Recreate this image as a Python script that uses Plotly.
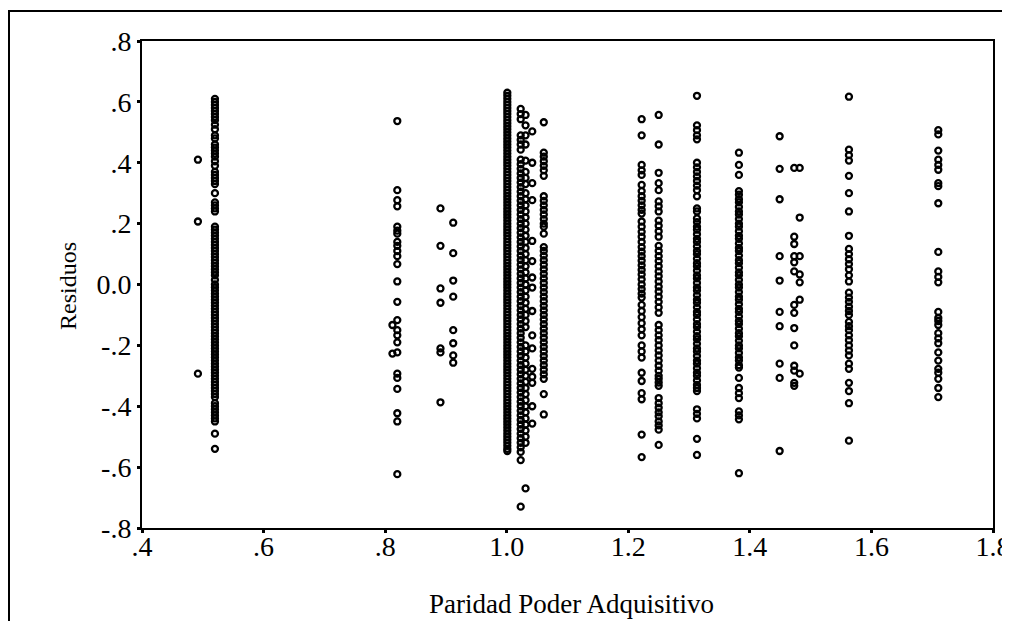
import plotly.graph_objects as go

# ---- data: residuals grouped by value of "Paridad Poder Adquisitivo" ----
ppa_values = [0.492, 0.52, 0.812, 0.82, 0.891, 0.912, 1.001, 1.023, 1.031, 1.042,
              1.061, 1.222, 1.25, 1.313, 1.382, 1.449, 1.473, 1.482, 1.563, 1.71]

res_0492 = [0.41, 0.207, -0.293]
res_052 = [0.61, 0.60, 0.59, 0.58, 0.57, 0.56, 0.55, 0.54, 0.525, 0.51, 0.49, 0.48,
           0.46, 0.45, 0.44, 0.43, 0.42, 0.405, 0.39, 0.37, 0.36, 0.35, 0.34, 0.33,
           0.30, 0.27, 0.26, 0.25, 0.24,
           0.19, 0.18, 0.17, 0.16, 0.15, 0.14, 0.13, 0.12, 0.11, 0.10, 0.09, 0.08,
           0.07, 0.06, 0.05, 0.04, 0.03, 0.015, 0.00, -0.01, -0.02, -0.03, -0.04,
           -0.05, -0.06, -0.07, -0.08, -0.09, -0.10, -0.11, -0.12, -0.13, -0.14,
           -0.15, -0.16, -0.17, -0.18, -0.19, -0.20, -0.21, -0.22, -0.23, -0.24,
           -0.25, -0.26, -0.27, -0.28, -0.29, -0.30, -0.31, -0.32, -0.33, -0.34,
           -0.35, -0.36, -0.37, -0.39, -0.40, -0.41, -0.42, -0.43, -0.44, -0.45,
           -0.49, -0.54]
res_0812 = [-0.133, -0.227]
res_082 = [0.537, 0.31, 0.277, 0.257, 0.19, 0.177, 0.167, 0.14, 0.127, 0.11, 0.093,
           0.067, 0.01, -0.057, -0.117, -0.15, -0.167, -0.19, -0.223, -0.293, -0.307,
           -0.343, -0.423, -0.45, -0.623]
res_0891 = [0.25, 0.127, -0.013, -0.06, -0.21, -0.223, -0.387]
res_0912 = [0.203, 0.103, 0.013, -0.04, -0.15, -0.193, -0.233, -0.257]
res_1001 = [0.63, 0.62, 0.61, 0.60, 0.59, 0.58, 0.57, 0.56, 0.55, 0.54, 0.53, 0.52,
            0.51, 0.50, 0.49, 0.48, 0.47, 0.46, 0.45, 0.44, 0.43, 0.42, 0.41, 0.40,
            0.39, 0.38, 0.37, 0.36, 0.35, 0.34, 0.33, 0.32, 0.31, 0.30, 0.29, 0.28,
            0.27, 0.26, 0.25, 0.24, 0.23, 0.22, 0.21, 0.20, 0.19, 0.18, 0.17, 0.16,
            0.15, 0.14, 0.13, 0.12, 0.11, 0.10, 0.09, 0.08, 0.07, 0.06, 0.05, 0.04,
            0.03, 0.02, 0.01, 0.00, -0.01, -0.02, -0.03, -0.04, -0.05, -0.06, -0.07,
            -0.08, -0.09, -0.10, -0.11, -0.12, -0.13, -0.14, -0.15, -0.16, -0.17,
            -0.18, -0.19, -0.20, -0.21, -0.22, -0.23, -0.24, -0.25, -0.26, -0.27,
            -0.28, -0.29, -0.30, -0.31, -0.32, -0.33, -0.34, -0.35, -0.36, -0.37,
            -0.38, -0.39, -0.40, -0.41, -0.42, -0.43, -0.44, -0.45, -0.46, -0.47,
            -0.48, -0.49, -0.50, -0.51, -0.52, -0.53, -0.54, -0.547]
res_1023 = [0.577, 0.56, 0.543, 0.49, 0.475, 0.46, 0.443,
            0.41, 0.395, 0.38, 0.365, 0.35, 0.335, 0.32, 0.305, 0.29, 0.275, 0.26,
            0.245, 0.23, 0.215, 0.20, 0.185, 0.17, 0.155, 0.14, 0.125, 0.11, 0.095,
            0.08, 0.065, 0.05, 0.035, 0.02, 0.005, -0.01, -0.025, -0.04, -0.055,
            -0.07, -0.085, -0.10, -0.115, -0.13, -0.145, -0.16, -0.175, -0.19,
            -0.205, -0.22, -0.235, -0.25, -0.265, -0.28, -0.295, -0.31, -0.325,
            -0.34, -0.355, -0.37, -0.385, -0.40, -0.415, -0.43, -0.445, -0.46,
            -0.475, -0.49, -0.505, -0.52, -0.535, -0.55, -0.577, -0.73]
res_1031 = [0.557, 0.523, 0.49, 0.46, 0.407, 0.37, 0.35, 0.33, 0.30, 0.28, 0.26,
            0.24, 0.22, 0.20, 0.18, 0.16, 0.14, 0.12, 0.10, 0.08, 0.06, 0.04, 0.02,
            0.00, -0.02, -0.04, -0.06, -0.08, -0.10, -0.12, -0.14, -0.20, -0.22,
            -0.24, -0.26, -0.28, -0.30, -0.32, -0.34, -0.36, -0.38, -0.40, -0.42,
            -0.44, -0.46, -0.48, -0.50, -0.52, -0.67]
res_1042 = [0.503, 0.40, 0.333, 0.277, 0.143, 0.077, 0.023, -0.01, -0.087, -0.167,
            -0.21, -0.277, -0.303, -0.323, -0.40, -0.457]
res_1061 = [0.533, 0.433, 0.42, 0.405, 0.39, 0.375, 0.357, 0.29, 0.275, 0.26, 0.245,
            0.23, 0.215, 0.20, 0.19, 0.167, 0.123, 0.11, 0.095, 0.08, 0.065, 0.05,
            0.035, 0.02, 0.005, -0.01, -0.025, -0.04, -0.055, -0.07, -0.085, -0.10,
            -0.115, -0.13, -0.145, -0.16, -0.175, -0.19, -0.205, -0.22, -0.235,
            -0.25, -0.265, -0.28, -0.295, -0.31, -0.36, -0.427]
res_1222 = [0.543, 0.49, 0.393, 0.375, 0.36, 0.327, 0.307, 0.29, 0.275, 0.26, 0.245,
            0.233, 0.207, 0.19, 0.173, 0.157, 0.14, 0.123, 0.108, 0.093, 0.078,
            0.063, 0.048, 0.033, 0.017, 0.0, -0.015, -0.03, -0.043, -0.067, -0.087,
            -0.107, -0.127, -0.147, -0.167, -0.2, -0.22, -0.24, -0.29, -0.317,
            -0.357, -0.377, -0.493, -0.567]
res_125 = [0.557, 0.46, 0.367, 0.333, 0.31, 0.273, 0.257, 0.24, 0.21, 0.193, 0.175,
           0.157, 0.127, 0.11, 0.093, 0.077, 0.06, 0.043, 0.027, 0.01, -0.007,
           -0.023, -0.04, -0.057, -0.075, -0.093, -0.133, -0.15, -0.167, -0.183,
           -0.2, -0.217, -0.233, -0.25, -0.267, -0.283, -0.3, -0.31, -0.322, -0.333,
           -0.373, -0.39, -0.405, -0.42, -0.433, -0.45, -0.463, -0.477, -0.527]
res_1313 = [0.62, 0.523, 0.507, 0.49, 0.477, 0.4, 0.385, 0.37, 0.355, 0.34, 0.325,
            0.31, 0.29, 0.25, 0.24, 0.217, 0.205, 0.19, 0.18, 0.165, 0.15, 0.14,
            0.125, 0.11, 0.10, 0.085, 0.07, 0.06, 0.045, 0.03, 0.02, 0.005, -0.01,
            -0.02, -0.035, -0.05, -0.06, -0.075, -0.09, -0.10, -0.115, -0.13, -0.14,
            -0.155, -0.17, -0.18, -0.195, -0.21, -0.22, -0.235, -0.25, -0.26,
            -0.275, -0.29, -0.30, -0.315, -0.33, -0.34, -0.35, -0.41, -0.425, -0.44,
            -0.507, -0.56]
res_1382 = [0.433, 0.393, 0.36, 0.307, 0.295, 0.28, 0.27, 0.255, 0.24, 0.23, 0.215,
            0.2, 0.19, 0.175, 0.16, 0.15, 0.135, 0.12, 0.11, 0.095, 0.08, 0.07,
            0.055, 0.04, 0.03, 0.015, 0.0, -0.01, -0.025, -0.04, -0.05, -0.065,
            -0.08, -0.09, -0.105, -0.12, -0.13, -0.145, -0.16, -0.17, -0.185, -0.2,
            -0.21, -0.225, -0.24, -0.25, -0.265, -0.273, -0.307, -0.34, -0.357,
            -0.373, -0.417, -0.43, -0.443, -0.62]
res_1449 = [0.487, 0.38, 0.28, 0.093, 0.013, -0.09, -0.137, -0.26, -0.307, -0.547]
res_1473 = [0.383, 0.157, 0.133, 0.093, 0.073, 0.043, -0.067, -0.093, -0.143, -0.2,
            -0.267, -0.283, -0.323, -0.333]
res_1482 = [0.383, 0.22, 0.093, 0.033, 0.007, -0.05, -0.293]
res_1563 = [0.617, 0.443, 0.425, 0.407, 0.357, 0.3, 0.24, 0.16, 0.117, 0.1, 0.083,
            0.067, 0.05, 0.03, 0.01, -0.027, -0.043, -0.057, -0.073, -0.087, -0.1,
            -0.123, -0.137, -0.15, -0.167, -0.183, -0.2, -0.217, -0.233, -0.26,
            -0.277, -0.323, -0.35, -0.39, -0.513]
res_171 = [0.507, 0.493, 0.44, 0.41, 0.393, 0.377, 0.333, 0.323, 0.267, 0.107,
           0.043, 0.025, 0.007, -0.09, -0.11, -0.12, -0.133, -0.16, -0.177, -0.193,
           -0.223, -0.25, -0.277, -0.29, -0.31, -0.34, -0.37]

residual_groups = [res_0492, res_052, res_0812, res_082, res_0891, res_0912,
                   res_1001, res_1023, res_1031, res_1042, res_1061, res_1222,
                   res_125, res_1313, res_1382, res_1449, res_1473, res_1482,
                   res_1563, res_171]

x_tickvals = [0.4, 0.6, 0.8, 1.0, 1.2, 1.4, 1.6, 1.8]
x_ticktext = [".4", ".6", ".8", "1.0", "1.2", "1.4", "1.6", "1.8"]
y_tickvals = [-0.8, -0.6, -0.4, -0.2, 0.0, 0.2, 0.4, 0.6, 0.8]
y_ticktext = ["-.8", "-.6", "-.4", "-.2", "0.0", ".2", ".4", ".6", ".8"]

x_title = "Paridad Poder Adquisitivo"
y_title = "Residuos"

# ---- build figure ----
xs, ys = [], []
for xv, grp in zip(ppa_values, residual_groups):
    xs.extend([xv] * len(grp))
    ys.extend(grp)

SERIF = "Liberation Serif, Times New Roman, serif"

fig = go.Figure(go.Scatter(
    x=xs, y=ys, mode="markers",
    marker=dict(symbol="circle-open", size=6, color="black",
                line=dict(width=2.3, color="black")),
    showlegend=False, hoverinfo="skip"))

# the page body adds an 8px offset, so the figure is laid out 8px up/left
OFF = 8
W, H = 1010 - OFF, 621 - OFF
L, R, T, B = 142 - OFF, 17, 41 - OFF, 101 - OFF
pw, ph = W - L - R, H - T - B


def px_x(p):
    return (p - OFF - L) / pw


def px_y(p):
    return (H - B - (p - OFF)) / ph


fig.update_layout(
    width=W, height=H, autosize=False,
    margin=dict(l=L, r=R, t=T, b=B, pad=0, autoexpand=False),
    paper_bgcolor="white", plot_bgcolor="white",
    font=dict(family=SERIF, color="black"),
    xaxis=dict(range=[0.4, 1.8], tickvals=x_tickvals, ticktext=x_ticktext,
               automargin=False,
               showgrid=False, zeroline=False, showline=True, mirror=True,
               linecolor="black", linewidth=2, ticks="outside", ticklen=3,
               tickwidth=3, tickcolor="black", ticklabeloverflow="allow",
               ticklabelstandoff=-11,
               tickfont=dict(family=SERIF, size=28, color="black")),
    yaxis=dict(range=[-0.8, 0.8], tickvals=y_tickvals, ticktext=y_ticktext,
               automargin=False,
               showgrid=False, zeroline=False, showline=True, mirror=True,
               linecolor="black", linewidth=2, ticks="outside", ticklen=3,
               tickwidth=3, tickcolor="black", ticklabeloverflow="allow",
               tickfont=dict(family=SERIF, size=28, color="black")),
    annotations=[
        dict(text=x_title, xref="paper", yref="paper", x=px_x(571), y=px_y(604),
             xanchor="center", yanchor="middle", showarrow=False,
             font=dict(family=SERIF, size=27, color="black")),
        dict(text=y_title, xref="paper", yref="paper", x=px_x(68), y=px_y(286),
             xanchor="center", yanchor="middle", showarrow=False, textangle=-90,
             font=dict(family=SERIF, size=24, color="black")),
    ],
    shapes=[
        dict(type="rect", xref="paper", yref="paper",
             x0=px_x(9), x1=px_x(1020), y0=px_y(640), y1=px_y(11),
             line=dict(color="black", width=2), fillcolor="rgba(0,0,0,0)",
             layer="below"),
    ],
)

fig.write_html("out.html")
